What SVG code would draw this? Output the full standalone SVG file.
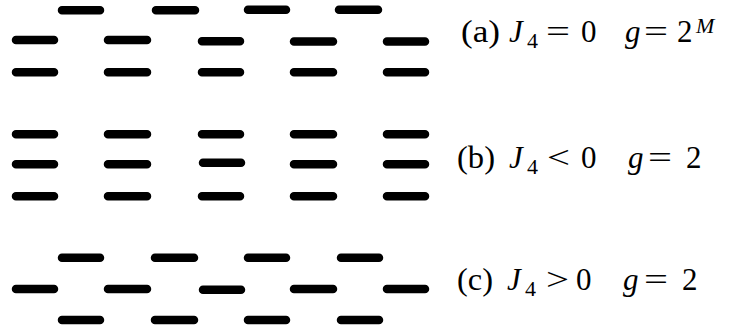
<svg xmlns="http://www.w3.org/2000/svg" width="729" height="330" viewBox="0 0 729 330">
<style>
.d{stroke:#000;stroke-width:8.5;stroke-linecap:round;fill:none}
.t{font-family:"Liberation Serif","DejaVu Serif",serif;font-size:31px;fill:#000}
.i{font-style:italic}
.s{font-size:22px}
</style>
<rect width="729" height="330" fill="#fff"/>
<g id="panel-a">
<path class="d" d="M62 10.3H100M156 10.3H195M248 9.7H286M339 9.7H378"/>
<path class="d" d="M16 40H54M108 40H147M202 41.3H240M294 41.5H333M387 41.5H425"/>
<path class="d" d="M16 72.3H54M108 72.3H147M202 72.3H240M294 72.3H333M387 72.3H425"/>
</g>
<g id="panel-b">
<path class="d" d="M16 134.3H54M108 134.3H147M202 134.3H240M294 134.3H333M387 134.3H425"/>
<path class="d" d="M16 164.3H54M108 164.3H147M203 162.7H241M294 164.3H333M387 164.3H425"/>
<path class="d" d="M16 196.3H54M108 196.3H147M202 196.3H240M294 196.3H333M387 196.3H425"/>
</g>
<g id="panel-c">
<path class="d" d="M62 257.7H100M155 257.7H194M248 257.7H286M341 257.7H379"/>
<path class="d" d="M16 289H54M108 289H147M203 289.7H241M294 289H333M387 289H425"/>
<path class="d" d="M62 320H100M155 320H194M248 320H286M341 320H379"/>
</g>
<g id="label-a" class="t">
<text x="461" y="42" textLength="39" lengthAdjust="spacingAndGlyphs">(a)</text>
<text x="509" y="42" class="i">J</text>
<text x="527" y="48" class="s">4</text>
<text x="546" y="42" textLength="24" lengthAdjust="spacingAndGlyphs">=</text>
<text x="581" y="42">0</text>
<text x="625" y="42" class="i">g</text>
<text x="644" y="42" textLength="24" lengthAdjust="spacingAndGlyphs">=</text>
<text x="677" y="42">2</text>
<text x="696" y="33" class="i s">M</text>
</g>
<g id="label-b" class="t">
<text x="457" y="168" textLength="38" lengthAdjust="spacingAndGlyphs">(b)</text>
<text x="509" y="168" class="i">J</text>
<text x="527" y="174" class="s">4</text>
<text x="547" y="168" textLength="23" lengthAdjust="spacingAndGlyphs">&lt;</text>
<text x="581" y="168">0</text>
<text x="628" y="168" class="i">g</text>
<text x="648" y="168" textLength="24" lengthAdjust="spacingAndGlyphs">=</text>
<text x="686" y="168">2</text>
</g>
<g id="label-c" class="t">
<text x="457" y="290" textLength="36" lengthAdjust="spacingAndGlyphs">(c)</text>
<text x="507" y="290" class="i">J</text>
<text x="525" y="296" class="s">4</text>
<text x="546" y="290" textLength="23" lengthAdjust="spacingAndGlyphs">&gt;</text>
<text x="576" y="290">0</text>
<text x="623" y="290" class="i">g</text>
<text x="644" y="290" textLength="24" lengthAdjust="spacingAndGlyphs">=</text>
<text x="682" y="290">2</text>
</g>
</svg>
